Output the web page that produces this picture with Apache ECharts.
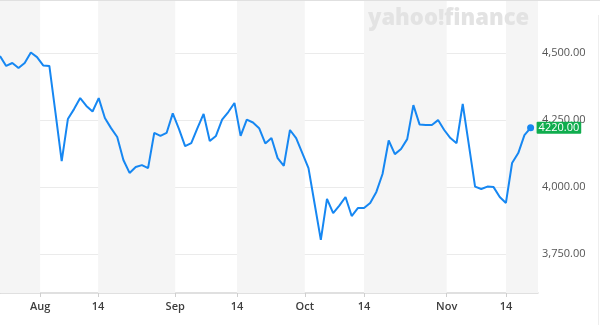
<!DOCTYPE html>
<html>
<head>
<meta charset="utf-8">
<script src="https://cdn.jsdelivr.net/npm/echarts@6/dist/echarts.min.js"></script>
<style>html,body{margin:0;padding:0;background:#fff}#c{width:600px;height:325px}</style>
</head>
<body>
<div id="c"></div>
<script>
// Closing values, one per trading day (index 0..86)
const closes = [
  4488, 4451, 4462, 4443, 4462, 4501, 4484, 4453, 4451, 4275,
  4096, 4253, 4290, 4331, 4302, 4281, 4331, 4257, 4219, 4186,
  4100, 4052, 4074, 4081, 4070, 4201, 4190, 4201, 4274, 4216,
  4152, 4163, 4219, 4272, 4171, 4190, 4251, 4279, 4313, 4190,
  4251, 4240, 4219, 4162, 4182, 4107, 4078, 4212, 4182, 4126,
  4070, 3936, 3802, 3955, 3902, 3930, 3962, 3891, 3921, 3921,
  3940, 3981, 4048, 4173, 4122, 4141, 4178, 4305, 4233, 4231,
  4231, 4249, 4212, 4182, 4163, 4309, 4156, 4001, 3992, 4001,
  3999, 3962, 3940, 4089, 4126, 4193, 4220
];
// Date tick positions (in trading-day index units) and their labels
const tickPos = [6.5, 15.9, 28.4, 38.4, 49.4, 59.0, 72.4, 82.0];
const tickLabels = ['Aug', '14', 'Sep', '14', 'Oct', '14', 'Nov', '14'];
// Price axis ticks
const yTicks = [3750, 4000, 4250, 4500];
const xMin = 0, xMax = 87.2, yMin = 3604, yMax = 4697;

const lineData = closes.map((v, i) => [i, v]);
const last = closes.length - 1;

// shaded bands: [start, Aug], [Aug14, Sep], [Sep14, Oct], [Oct14, Nov], [Nov14, end]
const edges = [xMin].concat(tickPos).concat([xMax]);
const bands = [];
for (let i = 0; i + 1 < edges.length; i += 2) {
  bands.push([{ xAxis: edges[i] }, { xAxis: edges[i + 1] }]);
}

const chart = echarts.init(document.getElementById('c'), null, { renderer: 'canvas' });
chart.setOption({
  animation: false,
  backgroundColor: '#fff',
  title: {
    text: 'yahoo!finance',
    left: 363, top: 3,
    textStyle: { color: '#e3e3e3', fontSize: 22, fontWeight: 800, fontFamily: 'Open Sans' }
  },
  grid: { left: 0, right: 62, top: 0, bottom: 32, containLabel: false },
  xAxis: {
    type: 'value', min: xMin, max: xMax,
    axisLine: { show: true, lineStyle: { color: '#d6d6d6', width: 1.5 } },
    axisTick: { show: true, customValues: tickPos, length: 4, lineStyle: { color: '#cfcfcf' } },
    axisLabel: {
      customValues: tickPos, margin: 8,
      color: '#3d3d3d', fontSize: 11, fontFamily: 'Open Sans', fontWeight: 600,
      formatter: function (v) {
        let best = 0;
        for (let i = 0; i < tickPos.length; i++) if (Math.abs(tickPos[i] - v) < Math.abs(tickPos[best] - v)) best = i;
        return tickLabels[best];
      }
    },
    splitLine: { show: false }
  },
  yAxis: {
    type: 'value', position: 'right', min: yMin, max: yMax,
    axisLine: { show: true, lineStyle: { color: '#d6d6d6', width: 1 } },
    axisTick: { show: false, customValues: yTicks },
    axisLabel: {
      customValues: yTicks, margin: 4,
      color: '#555', fontSize: 11, fontFamily: 'Open Sans',
      formatter: v => v.toLocaleString('en-US', { minimumFractionDigits: 2, maximumFractionDigits: 2 })
    },
    splitLine: { show: true, lineStyle: { color: '#ebebeb', width: 1 } }
  },
  graphic: [
    { type: 'line', shape: { x1: 0, y1: 0.5, x2: 600, y2: 0.5 }, style: { stroke: '#e0e0e0', lineWidth: 1 }, z: 10 },
    { type: 'line', shape: { x1: 598.5, y1: 15, x2: 598.5, y2: 325 }, style: { stroke: '#eeeeee', lineWidth: 1 }, z: 10 }
  ],
  series: [
    {
      type: 'line', z: -1, silent: true, data: [],
      markArea: { silent: true, itemStyle: { color: '#f5f5f5' }, data: bands }
    },
    {
      type: 'line', z: 3, data: lineData,
      showSymbol: true, showAllSymbol: true, symbol: 'circle',
      symbolSize: (v, p) => (p.dataIndex === last ? 7 : 0),
      itemStyle: { color: '#1687f2' },
      lineStyle: { color: '#1687f2', width: 2 },
      endLabel: {
        show: true, distance: 6,
        formatter: p => p.value[1].toFixed(2),
        backgroundColor: '#10ad4e', color: '#fff', fontSize: 11, fontFamily: 'Open Sans',
        padding: [1, 2, 0, 2], borderRadius: 1
      }
    }
  ]
});
</script>
</body>
</html>
